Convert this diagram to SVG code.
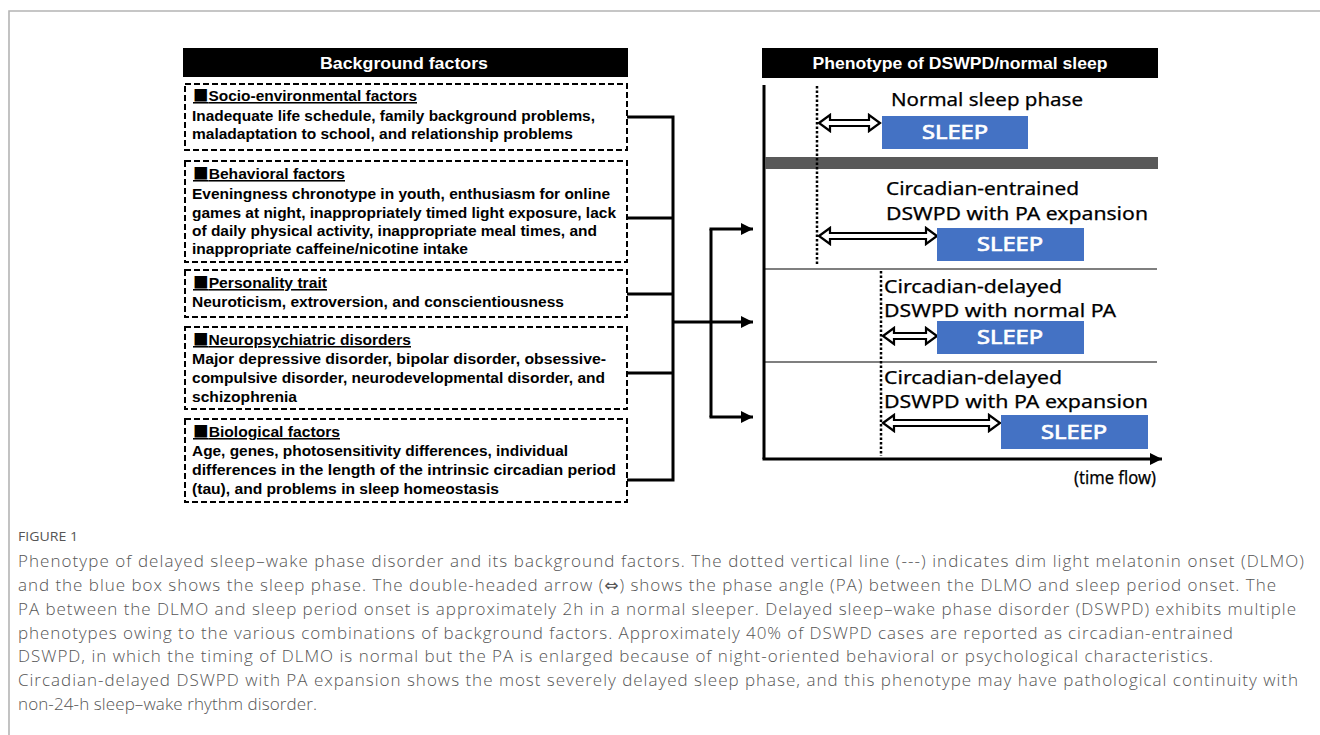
<svg xmlns="http://www.w3.org/2000/svg" width="1320" height="735" viewBox="0 0 1320 735">
<style>
.frame{stroke:#b4b4b4;stroke-width:1.6;fill:none}
.hdr{fill:#000}
.hdrt{fill:#fff;font-family:"Liberation Sans",Arial,sans-serif;font-weight:bold;text-anchor:middle}
.dbox{fill:#fff;stroke:#000;stroke-width:2;stroke-dasharray:6 3}
.ht{font-family:"Liberation Sans",Arial,sans-serif;font-weight:bold;font-size:15.5px;fill:#000;text-decoration:underline}
.sq{font-family:"Noto Sans CJK JP","Liberation Sans",sans-serif;font-weight:bold}
.bt{font-family:"Liberation Sans",Arial,sans-serif;font-weight:bold;font-size:15.5px;fill:#000}
.conn{stroke:#000;stroke-width:3;fill:none}
.axis{stroke:#000;stroke-width:3;fill:none}
.thin{stroke:#000;stroke-width:1.2}
.dot{stroke:#000;stroke-width:2.5;stroke-dasharray:2.5 2;fill:none}
.lab{font-family:"Noto Sans","Liberation Sans",sans-serif;font-size:18px;fill:#000;stroke:#000;stroke-width:0.25}
.sleep{fill:#4472C4}
.sleept{font-family:"Noto Sans","Liberation Sans",sans-serif;font-size:20px;fill:#fff;stroke:#fff;stroke-width:0.7;text-anchor:middle}
.darr{fill:#fff;stroke:#000;stroke-width:2.2;stroke-linejoin:miter}
.cap{font-family:"Open Sans","Liberation Sans",sans-serif;font-weight:300;font-size:17px;fill:#555}
.fig{font-family:"Open Sans","Liberation Sans",sans-serif;font-size:13px;fill:#555}
.sym{font-family:"DejaVu Sans",sans-serif;font-size:17px;font-weight:normal}
</style>
<defs>
<marker id="ah" viewBox="0 0 10 10" refX="10" refY="5" markerWidth="4.5" markerHeight="4" markerUnits="strokeWidth" orient="auto">
<path d="M0,0 L10,5 L0,10 Z" fill="#000"/>
</marker>
</defs>
<rect width="1320" height="735" fill="#fff"/>
<path class="frame" d="M9,735 L9,11 L1320,11"/>

<g id="bg-header">
<rect class="hdr" x="183" y="48" width="445" height="29"/>
<text class="hdrt" x="404" y="69" font-size="17" textLength="168" lengthAdjust="spacingAndGlyphs">Background factors</text>
</g>

<g id="socio">
<rect class="dbox" x="185" y="84" width="442" height="66"/>
<text class="ht" x="193" y="101" textLength="224" lengthAdjust="spacingAndGlyphs"><tspan class="sq">■</tspan>Socio-environmental factors</text>
<text class="bt" x="192" y="121" textLength="403" lengthAdjust="spacingAndGlyphs">Inadequate life schedule, family background problems,</text>
<text class="bt" x="192" y="139" textLength="381" lengthAdjust="spacingAndGlyphs">maladaptation to school, and relationship problems</text>
</g>

<g id="behavioral">
<rect class="dbox" x="185" y="161" width="442" height="101"/>
<text class="ht" x="193" y="179" textLength="152" lengthAdjust="spacingAndGlyphs"><tspan class="sq">■</tspan>Behavioral factors</text>
<text class="bt" x="192" y="199" textLength="418" lengthAdjust="spacingAndGlyphs">Eveningness chronotype in youth, enthusiasm for online</text>
<text class="bt" x="192" y="218" textLength="424" lengthAdjust="spacingAndGlyphs">games at night, inappropriately timed light exposure, lack</text>
<text class="bt" x="192" y="236" textLength="405" lengthAdjust="spacingAndGlyphs">of daily physical activity, inappropriate meal times, and</text>
<text class="bt" x="192" y="254" textLength="276" lengthAdjust="spacingAndGlyphs">inappropriate caffeine/nicotine intake</text>
</g>

<g id="personality">
<rect class="dbox" x="185" y="270" width="442" height="47"/>
<text class="ht" x="193" y="288" textLength="134" lengthAdjust="spacingAndGlyphs"><tspan class="sq">■</tspan>Personality trait</text>
<text class="bt" x="192" y="307" textLength="372" lengthAdjust="spacingAndGlyphs">Neuroticism, extroversion, and conscientiousness</text>
</g>

<g id="neuropsychiatric">
<rect class="dbox" x="185" y="327" width="442" height="82"/>
<text class="ht" x="193" y="345" textLength="218" lengthAdjust="spacingAndGlyphs"><tspan class="sq">■</tspan>Neuropsychiatric disorders</text>
<text class="bt" x="192" y="364" textLength="414" lengthAdjust="spacingAndGlyphs">Major depressive disorder, bipolar disorder, obsessive-</text>
<text class="bt" x="192" y="383" textLength="413" lengthAdjust="spacingAndGlyphs">compulsive disorder, neurodevelopmental disorder, and</text>
<text class="bt" x="192" y="402" textLength="105" lengthAdjust="spacingAndGlyphs">schizophrenia</text>
</g>

<g id="biological">
<rect class="dbox" x="185" y="419" width="442" height="83"/>
<text class="ht" x="193" y="437" textLength="147" lengthAdjust="spacingAndGlyphs"><tspan class="sq">■</tspan>Biological factors</text>
<text class="bt" x="192" y="456" textLength="376" lengthAdjust="spacingAndGlyphs">Age, genes, photosensitivity differences, individual</text>
<text class="bt" x="192" y="475" textLength="424" lengthAdjust="spacingAndGlyphs">differences in the length of the intrinsic circadian period</text>
<text class="bt" x="192" y="494" textLength="307" lengthAdjust="spacingAndGlyphs">(tau), and problems in sleep homeostasis</text>
</g>

<g id="connectors">
<path class="conn" d="M627,117 H673 M627,218 H673 M627,294 H673 M627,373 H673 M627,480 H673 M673,115.5 V481.5"/>
<path class="conn" d="M673,322 H753" marker-end="url(#ah)"/>
<path class="conn" d="M711,229 V417"/>
<path class="conn" d="M709.5,229 H753" marker-end="url(#ah)"/>
<path class="conn" d="M709.5,417 H753" marker-end="url(#ah)"/>
</g>

<g id="phenotype-header">
<rect class="hdr" x="762" y="48" width="396" height="30"/>
<text class="hdrt" x="960" y="69" font-size="16.5" textLength="295" lengthAdjust="spacingAndGlyphs">Phenotype of DSWPD/normal sleep</text>
</g>

<g id="axes">
<path class="axis" d="M764,85 V459"/>
<path class="axis" d="M762.5,459 H1162" marker-end="url(#ah)"/>
<text class="lab" x="1156" y="484" font-size="15" text-anchor="end" textLength="82" lengthAdjust="spacingAndGlyphs">(time flow)</text>
</g>

<g id="separators">
<rect x="765" y="157" width="393" height="12" fill="#595959"/>
<line class="thin" x1="765" y1="269" x2="1157" y2="269"/>
<line class="thin" x1="765" y1="362" x2="1157" y2="362"/>
<line class="dot" x1="817" y1="86" x2="817" y2="266"/>
<line class="dot" x1="881" y1="271" x2="881" y2="456"/>
</g>

<g id="normal">
<text class="lab" x="891" y="106" textLength="192" lengthAdjust="spacingAndGlyphs">Normal sleep phase</text>
<path class="darr" d="M819,123 l11,-8 v5 h39 v-5 l11,8 l-11,8 v-5 h-39 v5 z"/>
<rect class="sleep" x="882" y="116" width="146" height="33"/>
<text class="sleept" x="955" y="139" textLength="66" lengthAdjust="spacingAndGlyphs">SLEEP</text>
</g>

<g id="entrained">
<text class="lab" x="886" y="195" textLength="193" lengthAdjust="spacingAndGlyphs">Circadian-entrained</text>
<text class="lab" x="886" y="220" textLength="262" lengthAdjust="spacingAndGlyphs">DSWPD with PA expansion</text>
<path class="darr" d="M819,236 l11,-8 v5 h96 v-5 l11,8 l-11,8 v-5 h-96 v5 z"/>
<rect class="sleep" x="937" y="228" width="147" height="33"/>
<text class="sleept" x="1010" y="251" textLength="66" lengthAdjust="spacingAndGlyphs">SLEEP</text>
</g>

<g id="delayed-normal">
<text class="lab" x="884" y="293" textLength="178" lengthAdjust="spacingAndGlyphs">Circadian-delayed</text>
<text class="lab" x="884" y="317" textLength="232" lengthAdjust="spacingAndGlyphs">DSWPD with normal PA</text>
<path class="darr" d="M883,336 l11,-8 v5 h32 v-5 l11,8 l-11,8 v-5 h-32 v5 z"/>
<rect class="sleep" x="937" y="321" width="147" height="33"/>
<text class="sleept" x="1010" y="344" textLength="66" lengthAdjust="spacingAndGlyphs">SLEEP</text>
</g>

<g id="delayed-expansion">
<text class="lab" x="884" y="384" textLength="178" lengthAdjust="spacingAndGlyphs">Circadian-delayed</text>
<text class="lab" x="884" y="408" textLength="264" lengthAdjust="spacingAndGlyphs">DSWPD with PA expansion</text>
<path class="darr" d="M883,423 l11,-8 v5 h95 v-5 l11,8 l-11,8 v-5 h-95 v5 z"/>
<rect class="sleep" x="1001" y="415" width="147" height="34"/>
<text class="sleept" x="1074" y="439" textLength="66" lengthAdjust="spacingAndGlyphs">SLEEP</text>
</g>

<g id="caption">
<text class="fig" x="18" y="541" textLength="60" lengthAdjust="spacingAndGlyphs">FIGURE 1</text>
<text class="cap" x="18" y="567" textLength="1286" lengthAdjust="spacing">Phenotype of delayed sleep–wake phase disorder and its background factors. The dotted vertical line (---) indicates dim light melatonin onset (DLMO)</text>
<text class="cap" x="18" y="591" textLength="1258" lengthAdjust="spacing">and the blue box shows the sleep phase. The double-headed arrow (<tspan class="sym">⇔</tspan>) shows the phase angle (PA) between the DLMO and sleep period onset. The</text>
<text class="cap" x="18" y="615" textLength="1278" lengthAdjust="spacing">PA between the DLMO and sleep period onset is approximately 2h in a normal sleeper. Delayed sleep–wake phase disorder (DSWPD) exhibits multiple</text>
<text class="cap" x="18" y="639" textLength="1215" lengthAdjust="spacing">phenotypes owing to the various combinations of background factors. Approximately 40% of DSWPD cases are reported as circadian-entrained</text>
<text class="cap" x="18" y="662" textLength="1195" lengthAdjust="spacing">DSWPD, in which the timing of DLMO is normal but the PA is enlarged because of night-oriented behavioral or psychological characteristics.</text>
<text class="cap" x="18" y="686" textLength="1280" lengthAdjust="spacing">Circadian-delayed DSWPD with PA expansion shows the most severely delayed sleep phase, and this phenotype may have pathological continuity with</text>
<text class="cap" x="18" y="710" textLength="299" lengthAdjust="spacing">non-24-h sleep–wake rhythm disorder.</text>
</g>
</svg>
